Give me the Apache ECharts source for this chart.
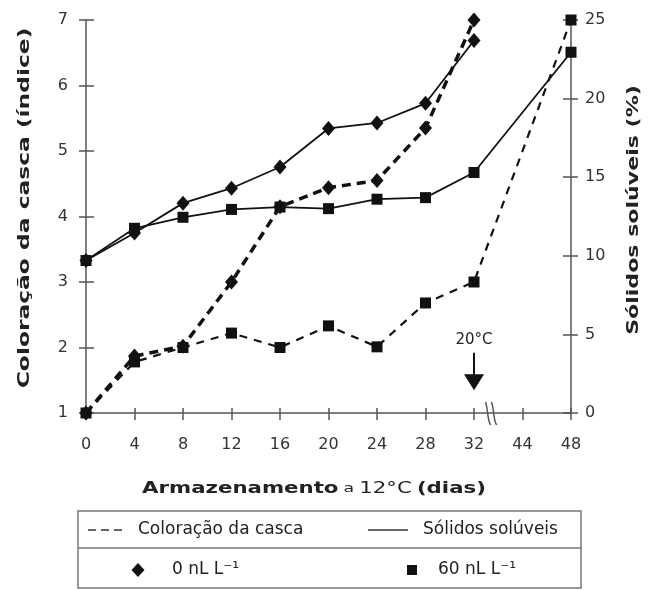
<!DOCTYPE html>
<html>
<head>
<meta charset="utf-8">
<script src="https://cdn.jsdelivr.net/npm/echarts@6/dist/echarts.min.js"></script>
<style>html,body{margin:0;padding:0;background:#fff}#c{width:648px;height:590px}</style>
</head>
<body>
<div id="c"></div>
<script>
const categories = ['0','4','8','12','16','20','24','28','32','44','48'];
const yLeftTicks = [1, 2, 3, 4, 5, 6, 7];
const yRightTicks = [0, 5, 10, 15, 20, 25];
// Coloração da casca (índice) - dashed, left axis
const coloracao0 = [1.0, 1.87, 2.02, 3.0, 4.15, 4.44, 4.55, 5.35, 7.0, null, null];
const coloracao60 = [1.0, 1.78, 2.0, 2.22, 2.0, 2.33, 2.01, 2.68, 3.0, null, 7.0];
// Sólidos solúveis (%) - solid, right axis
const solidos0 = [9.7, 11.45, 13.35, 14.3, 15.65, 18.1, 18.45, 19.7, 23.7, null, null];
const solidos60 = [9.7, 11.75, 12.45, 12.95, 13.1, 13.0, 13.6, 13.7, 15.3, null, 22.95];
const arrowCategory = '32';
const arrowFrom = 1.92, arrowTo = 1.47;

const FONT = 'DejaVu Sans';
const INK = '#111';
const AX = '#555';

const chart = echarts.init(document.getElementById('c'));

function yAx(pos, ticks, inside, labels) {
  return {
    type: 'value', position: pos,
    min: ticks[0], max: ticks[ticks.length - 1], interval: ticks[1] - ticks[0],
    axisLine: {show: !inside, lineStyle: {color: AX, width: 1.5}},
    axisTick: {show: true, inside: inside, length: inside ? 8 : 7, lineStyle: {color: AX, width: 1.5}},
    axisLabel: {show: labels, fontFamily: FONT, fontSize: 16, color: '#333', margin: pos === 'left' ? 18 : 14},
    splitLine: {show: false}
  };
}
function xAx(inside, labels) {
  return {
    type: 'category', position: 'bottom', data: categories, boundaryGap: false,
    axisLine: {show: !inside, lineStyle: {color: AX, width: 1.5}},
    axisTick: {show: true, inside: inside, length: inside ? 5 : 7, lineStyle: {color: AX, width: 1.5}},
    axisLabel: {show: labels, fontFamily: FONT, fontSize: 16, color: '#333', margin: 24, interval: 0},
    splitLine: {show: false}
  };
}

const arrowIdx = categories.indexOf(arrowCategory);

chart.setOption({
  animation: false,
  grid: {left: 86, right: 77, top: 20, bottom: 177},
  xAxis: [xAx(false, true), xAx(true, false)],
  yAxis: [yAx('left', yLeftTicks, false, true), yAx('right', yRightTicks, false, true),
          yAx('left', yLeftTicks, true, false), yAx('right', yRightTicks, true, false)],
  series: [
    {type: 'line', name: 'Coloração 0', data: coloracao0, yAxisIndex: 0, connectNulls: true,
     symbol: 'diamond', symbolSize: [13, 15], itemStyle: {color: INK},
     lineStyle: {color: INK, width: 3.5, type: [9, 6]}},
    {type: 'line', name: 'Coloração 60', data: coloracao60, yAxisIndex: 0, connectNulls: true,
     symbol: 'rect', symbolSize: 11, itemStyle: {color: INK},
     lineStyle: {color: INK, width: 2.2, type: [8, 7]},
     markLine: {silent: true, symbol: ['none', 'triangle'], symbolSize: [20, 16],
       lineStyle: {color: INK, width: 2, type: 'solid'},
       label: {show: true, position: 'start', formatter: '20°C', fontFamily: FONT, fontSize: 15, color: '#222', distance: 5},
       data: [[{coord: [arrowIdx, arrowFrom]}, {coord: [arrowIdx, arrowTo]}]]}},
    {type: 'line', name: 'Sólidos 0', data: solidos0, yAxisIndex: 1, connectNulls: true,
     symbol: 'diamond', symbolSize: [13, 15], itemStyle: {color: INK},
     lineStyle: {color: INK, width: 1.8}},
    {type: 'line', name: 'Sólidos 60', data: solidos60, yAxisIndex: 1, connectNulls: true,
     symbol: 'rect', symbolSize: 11, itemStyle: {color: INK},
     lineStyle: {color: INK, width: 1.8}}
  ]
});

const x32 = chart.convertToPixel({xAxisIndex: 0}, '32');
const x44 = chart.convertToPixel({xAxisIndex: 0}, '44');
const y0 = chart.convertToPixel({yAxisIndex: 1}, 0);
const xb = x32 + 0.32 * (x44 - x32);

chart.setOption({
  graphic: [
    // axis break marks
    {type: 'bezierCurve', shape: {x1: xb - 4, y1: y0 - 11, cpx1: xb - 1, cpy1: y0 - 3, x2: xb + 1, y2: y0 + 12, cpx2: xb - 3, cpy2: y0 + 4},
     style: {stroke: AX, lineWidth: 1.5, fill: null}},
    {type: 'bezierCurve', shape: {x1: xb + 2, y1: y0 - 11, cpx1: xb + 5, cpy1: y0 - 3, x2: xb + 7, y2: y0 + 12, cpx2: xb + 3, cpy2: y0 + 4},
     style: {stroke: AX, lineWidth: 1.5, fill: null}},
    // axis titles
    {type: 'text', x: 25, y: 208, rotation: Math.PI / 2, scaleX: 1.46,
     style: {text: 'Coloração da casca (índice)', fontFamily: FONT, fontWeight: 'bold', fontSize: 16, fill: '#222', align: 'center', verticalAlign: 'middle'}},
    {type: 'text', x: 634, y: 210, rotation: Math.PI / 2, scaleX: 1.38,
     style: {text: 'Sólidos solúveis (%)', fontFamily: FONT, fontWeight: 'bold', fontSize: 16, fill: '#222', align: 'center', verticalAlign: 'middle'}},
    {type: 'text', x: 314, y: 489, scaleX: 1.33,
     style: {text: '{a|Armazenamento} {b|a} {c|12°C} {a|(dias)}', fontFamily: FONT, fill: '#222', align: 'center', verticalAlign: 'middle',
       rich: {a: {fontFamily: FONT, fontWeight: 'bold', fontSize: 16, fill: '#222'},
              b: {fontFamily: FONT, fontSize: 13, fill: '#222'},
              c: {fontFamily: FONT, fontSize: 16, fill: '#222'}}}},
    // legend box
    {type: 'rect', shape: {x: 78, y: 511, width: 503, height: 77}, style: {fill: 'none', stroke: '#777', lineWidth: 1.5}},
    {type: 'line', shape: {x1: 78, y1: 548, x2: 581, y2: 548}, style: {stroke: '#777', lineWidth: 1.5}},
    {type: 'line', shape: {x1: 88, y1: 530, x2: 124, y2: 530}, style: {stroke: '#333', lineWidth: 1.5, lineDash: [8, 5]}},
    {type: 'text', x: 138, y: 530, style: {text: 'Coloração da casca', fontFamily: FONT, fontSize: 17, fill: '#222', verticalAlign: 'middle'}},
    {type: 'line', shape: {x1: 368, y1: 530, x2: 408, y2: 530}, style: {stroke: '#333', lineWidth: 1.5}},
    {type: 'text', x: 423, y: 530, style: {text: 'Sólidos solúveis', fontFamily: FONT, fontSize: 17, fill: '#222', verticalAlign: 'middle'}},
    {type: 'polygon', shape: {points: [[138, 563], [144.5, 570], [138, 577], [131.5, 570]]}, style: {fill: INK}},
    {type: 'text', x: 172, y: 570, style: {text: '0 nL L⁻¹', fontFamily: FONT, fontSize: 17, fill: '#222', verticalAlign: 'middle'}},
    {type: 'rect', shape: {x: 407, y: 565, width: 10, height: 10}, style: {fill: INK}},
    {type: 'text', x: 438, y: 570, style: {text: '60 nL L⁻¹', fontFamily: FONT, fontSize: 17, fill: '#222', verticalAlign: 'middle'}}
  ]
});
</script>
</body>
</html>
